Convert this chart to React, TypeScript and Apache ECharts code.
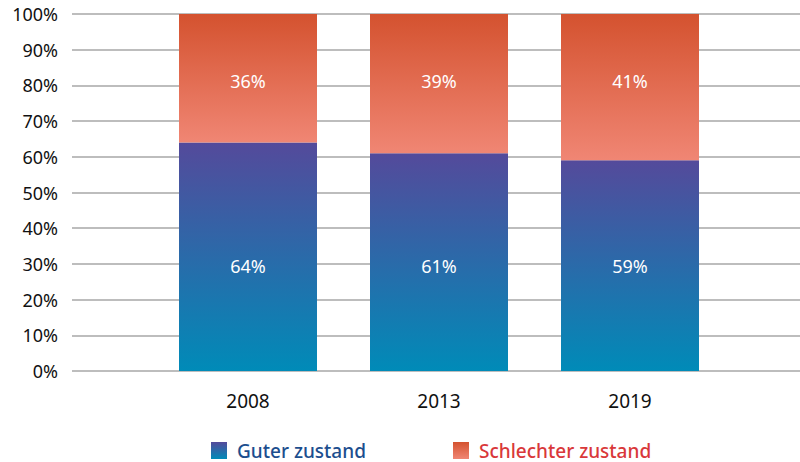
import React, { useEffect, useRef } from "react";
import * as echarts from "echarts";

const categories = ["2008", "2013", "2019"];
const goodValues = [64, 61, 59];
const badValues = [36, 39, 41];
const yTicks = [0, 10, 20, 30, 40, 50, 60, 70, 80, 90, 100];
const seriesNames = ["Guter zustand", "Schlechter zustand"];

const FONT = "'Noto Sans', 'Open Sans', sans-serif";

export default function App() {
  const ref = useRef<HTMLDivElement>(null);
  useEffect(() => {
    document.body.style.margin = "0";
    const chart = echarts.init(ref.current!, null, { renderer: "svg" });
    const blueGrad = new echarts.graphic.LinearGradient(0, 0, 0, 1, [
      { offset: 0, color: "#544a9b" },
      { offset: 1, color: "#008bb8" },
    ]);
    const redGrad = new echarts.graphic.LinearGradient(0, 0, 0, 1, [
      { offset: 0, color: "#d4522f" },
      { offset: 1, color: "#f08674" },
    ]);
    const labelBase = { show: true, color: "#fff", fontSize: 18, fontFamily: FONT, formatter: "{c}%" };
    const legendText = { fontSize: 19, lineHeight: 18, fontWeight: 500, fontFamily: FONT, padding: [0, 0, 0, 5] };
    chart.setOption({
      animation: false,
      grid: [
        { left: 72, right: 0, top: 14, bottom: 91 },
        { left: 152.5, right: 74.5, top: 14, bottom: 91 },
      ],
      xAxis: [
        { type: "category", gridIndex: 0, data: categories, show: false },
        {
          type: "category",
          gridIndex: 1,
          data: categories,
          axisLine: { show: false },
          axisTick: { show: false },
          axisLabel: { color: "#111", fontSize: 19, fontFamily: FONT, margin: 20 },
        },
      ],
      yAxis: [
        {
          type: "value",
          gridIndex: 0,
          min: yTicks[0],
          max: yTicks[yTicks.length - 1],
          interval: 10,
          axisLine: { show: false },
          axisTick: { show: false },
          axisLabel: { color: "#111", fontSize: 18, fontFamily: FONT, formatter: "{value}%", margin: 14 },
          splitLine: { lineStyle: { color: "#bdbdbd", width: 2 } },
        },
        {
          type: "value",
          gridIndex: 1,
          min: 0,
          max: 100,
          interval: 10,
          show: false,
        },
      ],
      legend: [
        {
          data: [{ name: seriesNames[0], textStyle: { color: "#1c4e8e" } }],
          left: 211,
          top: 441,
          padding: 0,
          icon: "rect",
          itemWidth: 16,
          itemHeight: 17,
          textStyle: legendText,
        },
        {
          data: [{ name: seriesNames[1], textStyle: { color: "#d9383a" } }],
          left: 453,
          top: 441,
          padding: 0,
          icon: "rect",
          itemWidth: 16,
          itemHeight: 17,
          textStyle: legendText,
        },
      ],
      series: [
        {
          name: seriesNames[0],
          type: "bar",
          stack: "total",
          xAxisIndex: 1,
          yAxisIndex: 1,
          barWidth: 138,
          data: goodValues,
          itemStyle: { color: blueGrad },
          label: { ...labelBase, position: "insideBottom", distance: 96 },
        },
        {
          name: seriesNames[1],
          type: "bar",
          stack: "total",
          xAxisIndex: 1,
          yAxisIndex: 1,
          barWidth: 138,
          data: badValues,
          itemStyle: { color: redGrad },
          label: { ...labelBase, position: "insideTop", distance: 58 },
        },
      ],
    });
    return () => chart.dispose();
  }, []);
  return <div ref={ref} style={{ width: 800, height: 462 }} />;
}
